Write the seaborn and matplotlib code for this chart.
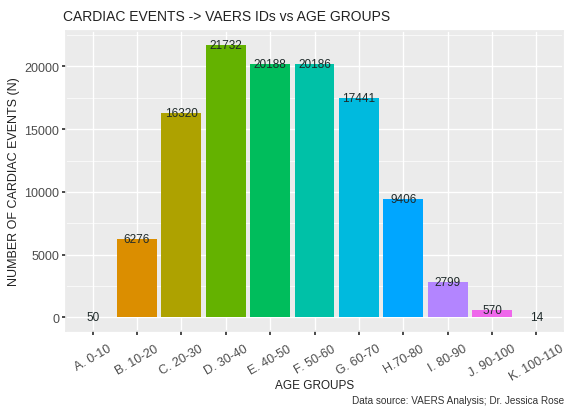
import numpy as np
import pandas as pd
import seaborn as sns
import matplotlib.pyplot as plt
from matplotlib.ticker import MultipleLocator

# data
age_groups = ["A. 0-10", "B. 10-20", "C. 20-30", "D. 30-40", "E. 40-50", "F. 50-60",
              "G. 60-70", "H.70-80", "I. 80-90", "J. 90-100", "K. 100-110"]
events = [50, 6276, 16320, 21732, 20188, 20186, 17441, 9406, 2799, 570, 14]
colors = ["#F8766D", "#DB8E00", "#AEA200", "#64B200", "#00BD5C", "#00C1A7",
          "#00BADE", "#00A6FF", "#B385FF", "#EF67EB", "#FF63B6"]

df = pd.DataFrame({"group": age_groups, "n": events})

sns.set_theme(style="darkgrid", rc={
    "axes.facecolor": "#EBEBEB",
    "grid.color": "white",
    "axes.edgecolor": "#EBEBEB",
    "xtick.bottom": True, "ytick.left": True,
    "xtick.color": "#333333", "ytick.color": "#333333",
    "xtick.major.size": 3, "ytick.major.size": 3,
    "xtick.minor.size": 0, "ytick.minor.size": 0,
    "xtick.major.pad": 2, "ytick.major.pad": 2,
})
plt.rcParams["font.family"] = ["Liberation Sans", "DejaVu Sans"]

fig = plt.figure(figsize=(5.7, 4.1), dpi=100)
ax = fig.add_axes([0.1158, 0.190, 0.872, 0.732])

sns.barplot(data=df, x="group", y="n", hue="group", palette=colors,
            legend=False, width=0.9, saturation=1, linewidth=0, ax=ax)

for i, v in enumerate(events):
    ax.text(i, v, str(v), ha="center", va="center", fontsize=8.5, color="#1F2A2A")

ymax = max(events)
pad = ymax * 0.05
ax.set_ylim(-pad, ymax + pad)
ax.set_xlim(-0.6, len(age_groups) - 0.4)
ax.yaxis.set_major_locator(MultipleLocator(5000))
ax.yaxis.set_minor_locator(MultipleLocator(2500))
ax.grid(which="minor", axis="y", color="white", linewidth=0.5)
ax.grid(which="major", color="white", linewidth=1.0)

ax.tick_params(axis="x", labelsize=9, labelcolor="#4D4D4D", rotation=30, length=3, pad=5)
ax.tick_params(axis="y", labelsize=9, labelcolor="#4D4D4D", length=3)
for lab in ax.get_xticklabels():
    lab.set_ha("center")

ax.set_xlabel("AGE GROUPS", fontsize=8.5, color="#222222", labelpad=-3)
ax.set_ylabel("NUMBER OF CARDIAC EVENTS (N)", fontsize=9, color="#222222", labelpad=3)
ax.set_title("CARDIAC EVENTS -> VAERS IDs vs AGE GROUPS", loc="left", fontsize=10,
             color="#222222", pad=8, x=-0.007)
fig.text(0.99, 0.01, "Data source: VAERS Analysis; Dr. Jessica Rose", ha="right",
         va="bottom", fontsize=7.2, color="#333333")

fig.savefig("out.png", dpi=100)
